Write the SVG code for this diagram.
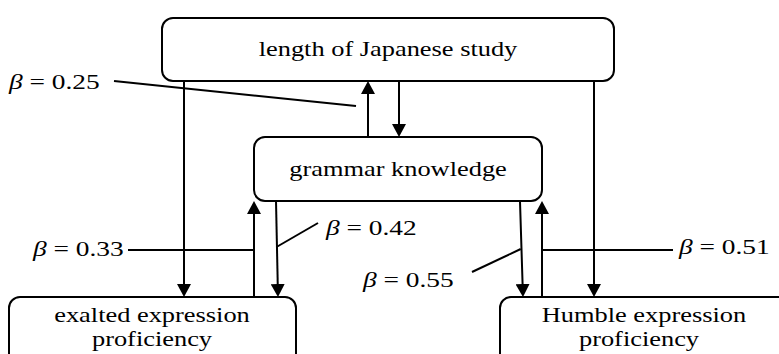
<svg xmlns="http://www.w3.org/2000/svg" width="779" height="354" viewBox="0 0 779 354">
<style>
.box{fill:#fff;stroke:#000;stroke-width:2}
.ln{stroke:#000;stroke-width:2;fill:none}
.arr{stroke:#000;stroke-width:2;fill:none;marker-end:url(#ah)}
.lbl{font-family:"Liberation Serif","Times New Roman",serif;font-size:22px;text-anchor:middle;fill:#000}
.beta{font-family:"Liberation Serif","Times New Roman",serif;font-size:20px;fill:#000}
</style>
<defs>
<marker id="ah" viewBox="0 0 13 14" markerWidth="13" markerHeight="14" refX="5" refY="7" orient="auto" markerUnits="userSpaceOnUse">
<path d="M0,0 L13,7 L0,14 Z" fill="#000"/>
</marker>
</defs>
<rect width="779" height="354" fill="#fff"/>
<g id="node-length">
<rect class="box" x="162" y="18" width="452" height="63" rx="11"/>
<text class="lbl" transform="translate(388,56) scale(1.2,1)">length of Japanese study</text>
</g>
<g id="node-grammar">
<rect class="box" x="254" y="137" width="288" height="64" rx="11"/>
<text class="lbl" transform="translate(398,176) scale(1.2,1)">grammar knowledge</text>
</g>
<g id="node-exalted">
<rect class="box" x="9" y="297" width="287" height="75" rx="11"/>
<text class="lbl" transform="translate(152,322) scale(1.2,1)">exalted expression</text>
<text class="lbl" transform="translate(152,346) scale(1.2,1)">proficiency</text>
</g>
<g id="node-humble">
<rect class="box" x="500" y="297" width="295" height="75" rx="11"/>
<text class="lbl" transform="translate(644,322) scale(1.2,1)">Humble expression</text>
<text class="lbl" transform="translate(639,346) scale(1.2,1)">proficiency</text>
</g>
<g id="connectors">
<line class="arr" x1="184" y1="81" x2="184" y2="289"/>
<line class="arr" x1="368" y1="137" x2="368" y2="89"/>
<line class="arr" x1="399" y1="81" x2="399" y2="129"/>
<line class="arr" x1="594" y1="81" x2="594" y2="289"/>
<line class="arr" x1="254" y1="297" x2="254" y2="209"/>
<line class="arr" x1="276" y1="201" x2="277.83" y2="289"/>
<line class="arr" x1="520" y1="201" x2="522.75" y2="289"/>
<line class="arr" x1="542" y1="297" x2="542" y2="209"/>
<line class="ln" x1="114" y1="81" x2="356" y2="106"/>
<line class="ln" x1="128" y1="250" x2="254" y2="250"/>
<line class="ln" x1="318" y1="223" x2="276.5" y2="247"/>
<line class="ln" x1="472" y1="272" x2="520.7" y2="249"/>
<line class="ln" x1="542" y1="250" x2="673" y2="250"/>
</g>
<g id="labels">
<text class="beta" transform="translate(9,89) scale(1.37,1)"><tspan font-style="italic">β</tspan> = 0.25</text>
<text class="beta" transform="translate(33,256) scale(1.37,1)"><tspan font-style="italic">β</tspan> = 0.33</text>
<text class="beta" transform="translate(326,235) scale(1.37,1)"><tspan font-style="italic">β</tspan> = 0.42</text>
<text class="beta" transform="translate(363,287) scale(1.37,1)"><tspan font-style="italic">β</tspan> = 0.55</text>
<text class="beta" transform="translate(679,254) scale(1.37,1)"><tspan font-style="italic">β</tspan> = 0.51</text>
</g>
</svg>
